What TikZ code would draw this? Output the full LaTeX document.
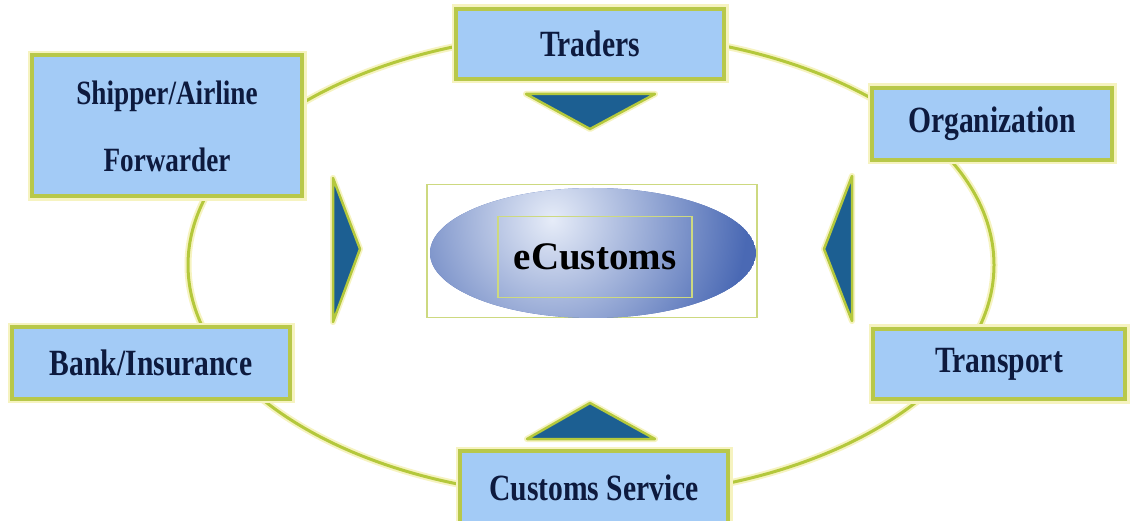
\documentclass[tikz,border=0pt]{standalone}
\usepackage{fontspec}
\newfontfamily\lblfont[FakeStretch=0.8]{Liberation Serif}
\newfontfamily\ecfont{Liberation Serif}
\usetikzlibrary{shapes.geometric}
\definecolor{ringcol}{HTML}{B4C83C}
\definecolor{glowcol}{HTML}{F6F3C0}
\definecolor{boxfill}{HTML}{A3CBF6}
\definecolor{boxline}{HTML}{B8C84A}
\definecolor{txtcol}{HTML}{0D1A3E}
\definecolor{trifill}{HTML}{1C5F92}
\definecolor{elinner}{HTML}{E6ECF8}
\definecolor{elouter}{HTML}{4A69B4}
\tikzset{
  partybox/.style={draw=boxline, line width=4pt, fill=boxfill,
    preaction={draw=glowcol, line width=9pt},
    text=txtcol, font=\lblfont\bfseries\fontsize{37}{44}\selectfont,
    inner sep=0pt, align=center},
  arrowtri/.style={fill=trifill, draw=ringcol, line width=2.5pt, line join=round,
    preaction={draw=glowcol, line width=6pt, line join=round}},
  ringline/.style={draw=ringcol, line width=3pt, preaction={draw=glowcol, line width=7pt}},
  thinframe/.style={draw=boxline!70, line width=1.2pt}
}
\begin{document}
\begin{tikzpicture}[x=1pt,y=-1pt]
\useasboundingbox[fill=white] (0,0) rectangle (1130,521);
% ring
\node[ringline, ellipse, minimum width=806pt, minimum height=464pt, inner sep=0pt] (ring) at (591,265) {};
% boxes
\node[partybox, minimum width=268pt, minimum height=70pt] (traders) at (590,44) {Traders};
\node[partybox, minimum width=270pt, minimum height=141pt, font=\lblfont\bfseries\fontsize{34}{67}\selectfont] (shipper) at (167,126) {Shipper/Airline\\Forwarder};
\node[partybox, minimum width=240pt, minimum height=72pt] (org) at (992,124) {Organization};
\node[partybox, minimum width=278pt, minimum height=71pt] (bank) at (151,363) {Bank/Insurance};
\node[partybox, minimum width=252pt, minimum height=70pt] (transport) at (999,364) {Transport};
\node[partybox, minimum width=268pt, minimum height=74pt] (customs) at (594,488) {Customs Service};
% triangles
\coordinate (tA1) at (526,94); \coordinate (tA2) at (655,94); \coordinate (tA3) at (590,129);
\draw[arrowtri] (tA1) -- (tA2) -- (tA3) -- cycle;
\coordinate (tB1) at (527,439); \coordinate (tB2) at (655,439); \coordinate (tB3) at (590,403);
\draw[arrowtri] (tB1) -- (tB2) -- (tB3) -- cycle;
\coordinate (tC1) at (333,178); \coordinate (tC2) at (333,322); \coordinate (tC3) at (360,249);
\draw[arrowtri] (tC1) -- (tC2) -- (tC3) -- cycle;
\coordinate (tD1) at (852,176); \coordinate (tD2) at (852,321); \coordinate (tD3) at (824,249);
\draw[arrowtri] (tD1) -- (tD2) -- (tD3) -- cycle;
% centre
\node[thinframe, minimum width=330pt, minimum height=133pt, inner sep=0pt] (frame) at (592,251) {};
\begin{scope}
  \clip (593,253) ellipse [x radius=163pt, y radius=65pt];
  \fill[elouter] (593,253) ellipse [x radius=163pt, y radius=65pt];
  \shade[inner color=elinner, outer color=elouter] (552,220) circle [radius=195pt];
\end{scope}
\node[ellipse, minimum width=326pt, minimum height=130pt, inner sep=0pt] (hub) at (593,253) {};
\node[thinframe, minimum width=194pt, minimum height=81pt, inner sep=0pt,
      font=\ecfont\bfseries\fontsize{39}{44}\selectfont, text=black] (ecustoms) at (595,257) {eCustoms};
\end{tikzpicture}
\end{document}
